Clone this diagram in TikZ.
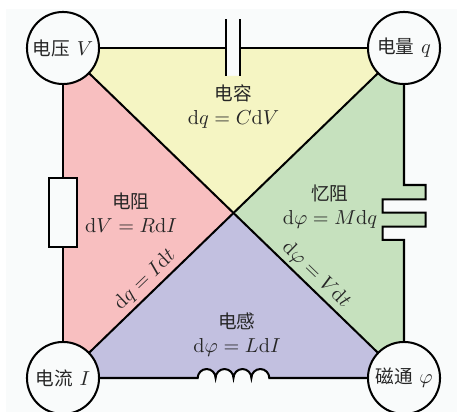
\documentclass[tikz,border=0pt]{standalone}
\usepackage{amsmath,amssymb,amsfonts}
\usepackage{fontspec}
\usepackage{xcolor}
\usepackage{tikz}
\usetikzlibrary{positioning,calc}
\setmainfont{Latin Modern Roman}
\newfontfamily\cjk[Scale=0.92]{Noto Sans CJK SC}
\definecolor{bgcolor}{RGB}{249, 251, 251}
\definecolor{redcolor}{RGB}{248, 191, 192}
\definecolor{yellowcolor}{RGB}{245, 245, 195}
\definecolor{greencolor}{RGB}{198, 225, 190}
\definecolor{bluecolor}{RGB}{194, 192, 224}
\newcommand{\dd}{\mathrm{d}}
\newcommand{\coilpart}{\foreach \i in {1,...,4}{arc[start angle=180,end angle=0,radius=8.95]}}
\newcommand{\memrpart}{-- ++(21.7,0) -- ++(0,-14.3) -- ++(-43,0) -- ++(0,-13.4) -- ++(43,0) -- ++(0,-13.9) -- ++(-43,0) -- ++(0,-13.3) -- ++(21.3,0)}

\begin{document}
\begin{tikzpicture}[x=0.494pt,y=0.494pt,line width=1pt,wire/.style={draw,line width=1pt},terminal/.style={draw,circle,fill=bgcolor,minimum size=35.6pt,inner sep=0pt,align=center,text=black!85},lab/.style={align=center,text=black!85,inner sep=0pt},res/.style={draw,fill=bgcolor,minimum width=14.1pt,minimum height=34pt}]
\useasboundingbox (0,0) rectangle (457,412);
\fill[bgcolor] (6,0) rectangle (457,403);
% corners, centre and plates
\coordinate (m) at (233.5,199.5); \coordinate (vc) at (63,364); \coordinate (qc) at (404,364); \coordinate (ic) at (63,34); \coordinate (fc) at (404,34);
\coordinate (cl) at (226.3,364); \coordinate (cr) at (240.3,364); \coordinate (coil) at (197.7,34); \coordinate (mem) at (404,227);
% coloured faces
\fill[yellowcolor] (vc)--(cl)--(226.3,336)--(240.3,336)--(cr)--(qc)--(m)--cycle;
\fill[redcolor] (vc)--(m)--(ic)--cycle;
\fill[greencolor] (qc)--(mem) \memrpart --(fc)--(m)--cycle;
\fill[bluecolor] (ic)--(coil) \coilpart --(fc)--(m)--cycle;
% wires
\draw[wire] (vc)--(fc); \draw[wire] (qc)--(ic);
\draw[wire] (vc)--(cl); \draw[wire] (cr)--(qc);
\draw[wire] (226.3,392.7)--(226.3,336); \draw[wire] (240.3,392.7)--(240.3,336);
\draw[wire] (qc)--(mem) \memrpart --(fc);
\draw[wire] (ic)--(coil) \coilpart --(fc);
\draw[wire] (vc)--(ic);
\node[res](r) at (63,199.3){};
% terminals
\node[terminal](v) at (vc){{\cjk 电压} $V$}; \node[terminal](q) at (qc){{\cjk 电量} $q$};
\node[terminal](i) at (ic){{\cjk 电流} $I$}; \node[terminal](f) at (fc){{\cjk 磁通} $\varphi$};
% labels
\node[lab](cap) at (233.5,305.5){{\cjk 电容}\\$\dd q=C\dd V$};
\node[lab](rst) at (131,199){{\cjk 电阻}\\$\dd V=R\dd I$};
\node[lab](mst) at (330,205){{\cjk 忆阻}\\$\dd\varphi=M\dd q$};
\node[lab](ind) at (237,77.5){{\cjk 电感}\\$\dd\varphi=L\dd I$};
\node[lab,rotate=44](qi) at (145,132){$\dd q=I\dd t$};
\node[lab,rotate=-44](fv) at (316,137){$\dd\varphi=V\dd t$};
\end{tikzpicture}
\end{document}
